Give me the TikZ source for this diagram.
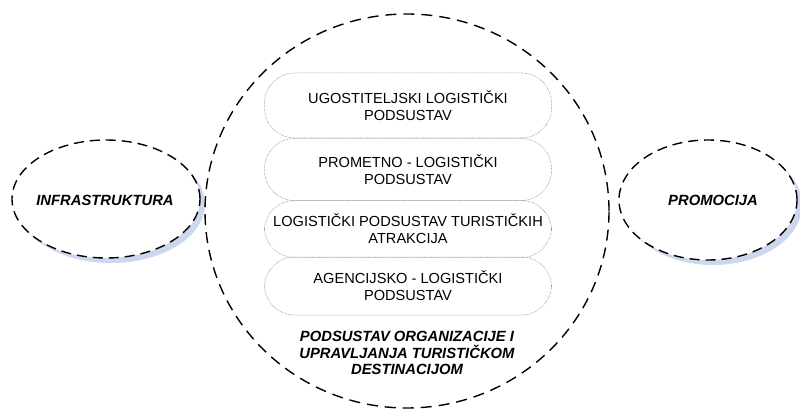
\documentclass[tikz,border=0pt]{standalone}
\usepackage{fontspec}
\setmainfont{Liberation Sans}
\usetikzlibrary{shapes.geometric,shadows}
\definecolor{shadowblue}{RGB}{205,216,238}
\definecolor{dotgray}{RGB}{130,130,130}
\tikzset{
  bigell/.style={ellipse, draw, line width=1.4pt, dash pattern=on 11pt off 7pt, minimum width=404pt, minimum height=394pt, inner sep=0pt},
  sideell/.style={ellipse, draw, fill=white, line width=1.4pt, dash pattern=on 10pt off 6pt, inner sep=0pt,
     drop shadow={shadow xshift=5pt, shadow yshift=-5pt, fill=shadowblue, opacity=1}},
  subbox/.style={draw=dotgray, line width=0.5pt, dash pattern=on 0.6pt off 0.8pt, rounded corners=30pt, minimum width=287pt, inner sep=0pt, align=center, font=\fontsize{14.6}{17}\selectfont},
  boldlab/.style={font=\fontsize{14.8}{16.5}\selectfont\bfseries\itshape, align=center}
}
\begin{document}
\begin{tikzpicture}[x=1pt,y=-1pt]
\useasboundingbox (0,0) rectangle (800,409);
\node[sideell, minimum width=188pt, minimum height=118pt] (infra) at (106,199) {};
\node[boldlab] (infralab) at (105,200) {INFRASTRUKTURA};
\node[sideell, minimum width=178pt, minimum height=120pt] (promo) at (708,200) {};
\node[boldlab] (promolab) at (713,200) {PROMOCIJA};
\node[bigell] (org) at (407,211) {};
\node[subbox, minimum height=65pt] (s1) at (408,105.5) {UGOSTITELJSKI LOGISTIČKI\\PODSUSTAV};
\node[subbox, minimum height=62pt] (s2) at (408,169.5) {PROMETNO - LOGISTIČKI\\PODSUSTAV};
\node[subbox, minimum height=57pt] (s3) at (408,229) {LOGISTIČKI PODSUSTAV TURISTIČKIH\\ATRAKCIJA};
\node[subbox, minimum height=58pt] (s4) at (408,286) {AGENCIJSKO - LOGISTIČKI\\PODSUSTAV};
\node[boldlab] (orglab) at (407,353) {PODSUSTAV ORGANIZACIJE I\\UPRAVLJANJA TURISTIČKOM\\DESTINACIJOM};
\end{tikzpicture}
\end{document}
